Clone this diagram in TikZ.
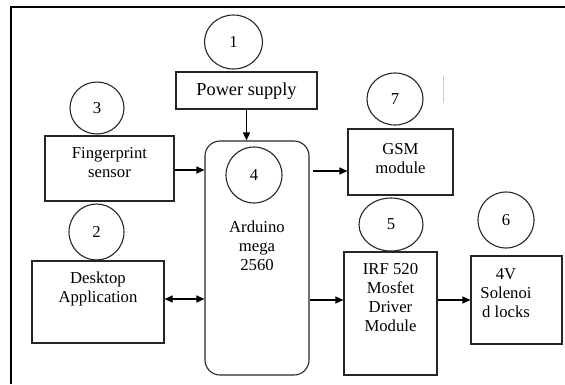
\documentclass[tikz,border=0pt]{standalone}
\usepackage{fontspec}
\setmainfont{Liberation Serif}
\usetikzlibrary{arrows.meta,shapes.geometric,calc}
\begin{document}
\begin{tikzpicture}[x=1pt,y=-1pt,
  box/.style={draw=black!85, line width=1.1pt, inner sep=0pt, rectangle},
  num/.style={draw=black!85, line width=1.1pt, ellipse, inner sep=0pt, font=\fontsize{16.7}{19}\selectfont},
  lbl/.style={align=center, inner sep=0pt, font=\fontsize{16.7}{19}\selectfont},
  arr/.style={-{Triangle[length=8pt,width=7pt]}, line width=1.1pt},
  darr/.style={{Triangle[length=8pt,width=7pt]}-{Triangle[length=8pt,width=7pt]}, line width=1.1pt},
]
\useasboundingbox (0,0) rectangle (565,384);
% outer frame
\draw[line width=2pt] (11,384) -- (11,6.5) -- (565,6.5);
\draw[black!20, line width=0.8pt] (443,76) -- (443,103);

% boxes
\node[box, minimum width=141, minimum height=37] (ps) at (246.5,90.5) {};
\node[box, minimum width=129, minimum height=65] (fp) at (109.5,168.5) {};
\node[box, minimum width=132, minimum height=82] (da) at (98,302) {};
\node[box, rounded corners=15pt, minimum width=104, minimum height=234] (ard) at (257,258) {};
\node[box, minimum width=105, minimum height=66] (gsm) at (400.5,162) {};
\node[box, minimum width=93, minimum height=123] (irf) at (390.5,313.5) {};
\node[box, minimum width=91, minimum height=88] (sol) at (516.5,300) {};

% labels
\node[lbl, font=\fontsize{18.3}{21}\selectfont] (tps) at (246.5,91) {Power supply};
\node[lbl] (tfp) at (109.5,163) {Fingerprint\\sensor};
\node[lbl] (tda) at (98,288.5) {Desktop\\Application};
\node[lbl] (tard) at (257,246) {Arduino\\mega\\2560};
\node[lbl] (tgsm) at (400.5,159) {GSM\\module};
\node[lbl] (tirf) at (390.5,297.5) {IRF 520\\Mosfet\\Driver\\Module};
\node[lbl] (tsol) at (506,293) {4V\\Solenoi\\d locks};

% numbered circles
\node[num, minimum width=58, minimum height=54] (c1) at (233.5,42) {1};
\node[num, minimum width=54, minimum height=52] (c3) at (97,108) {3};
\node[num, minimum width=56, minimum height=52] (c7) at (395,99) {7};
\node[num, minimum width=56, minimum height=56] (c4) at (254,175) {4};
\node[num, minimum width=55, minimum height=56] (c2) at (96.5,232) {2};
\node[num, minimum width=64, minimum height=53] (c5) at (391,224.5) {5};
\node[num, minimum width=56, minimum height=56] (c6) at (506,220) {6};

% connectors
\draw[arr] (ps.south) -- (ps.south |- ard.north);
\draw[arr] ($(fp.east)+(0,1.5)$) -- ($(fp.east -| ard.west)+(0,1.5)$);
\draw[darr] ($(da.east)+(0,-3)$) -- ($(da.east -| ard.west)+(0,-3)$);
\draw[arr] ($(gsm.west -| ard.east)+(3,9)$) -- ($(gsm.west)+(0,9)$);
\draw[arr] (sol.west -| ard.east) -- (sol.west -| irf.west);
\draw[arr] (sol.west -| irf.east) -- (sol.west);
\end{tikzpicture}
\end{document}
